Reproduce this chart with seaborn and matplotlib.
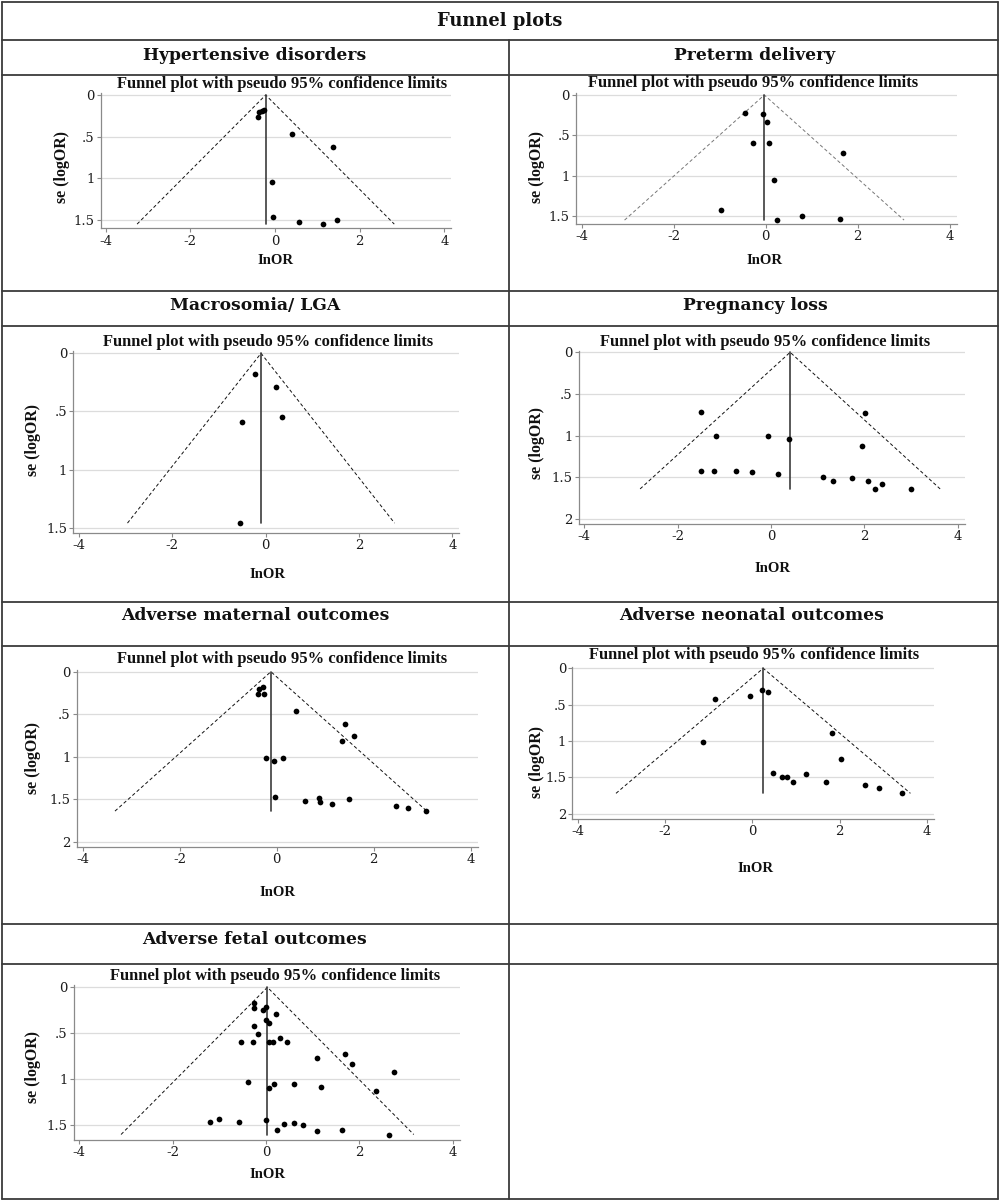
import numpy as np
import pandas as pd
import matplotlib
matplotlib.use("Agg")
import matplotlib.pyplot as plt
import seaborn as sns
from matplotlib.lines import Line2D

# ---------------- data ----------------
main_title = "Funnel plots"
section_titles = ["Hypertensive disorders", "Preterm delivery", "Macrosomia/ LGA",
                  "Pregnancy loss", "Adverse maternal outcomes",
                  "Adverse neonatal outcomes", "Adverse fetal outcomes"]
plot_title = "Funnel plot with pseudo 95% confidence limits"
x_label = "InOR"
y_label = "se (logOR)"
x_ticks = [-4, -2, 0, 2, 4]
x_tick_labels = ["-4", "-2", "0", "2", "4"]
y_ticks_a = [0, 0.5, 1, 1.5]
y_tick_labels_a = ["0", ".5", "1", "1.5"]
y_ticks_b = [0, 0.5, 1, 1.5, 2]
y_tick_labels_b = ["0", ".5", "1", "1.5", "2"]

hyp_lnor = [-0.39, -0.37, -0.31, -0.26, 0.39, 1.38, -0.08, -0.04, 0.57, 1.14, 1.47]
hyp_se = [0.27, 0.21, 0.19, 0.18, 0.47, 0.62, 1.04, 1.47, 1.52, 1.55, 1.50]
hyp_pooled = -0.22

pre_lnor = [-0.45, -0.05, 0.02, -0.27, 0.08, 1.69, 0.18, -0.98, 0.24, 0.78, 1.62]
pre_se = [0.22, 0.24, 0.34, 0.59, 0.59, 0.72, 1.05, 1.43, 1.55, 1.50, 1.54]
pre_pooled = -0.03

mac_lnor = [-0.23, 0.22, -0.50, 0.34, -0.55]
mac_se = [0.18, 0.29, 0.59, 0.55, 1.46]
mac_pooled = -0.10

los_lnor = [-1.51, -1.18, -0.06, 0.39, 2.01, 1.96, -1.49, -1.22, -0.74, -0.40,
            0.16, 1.11, 1.32, 1.74, 2.07, 2.23, 2.37, 3.01]
los_se = [0.72, 1.00, 1.01, 1.04, 0.73, 1.13, 1.42, 1.42, 1.43, 1.44,
          1.46, 1.50, 1.54, 1.51, 1.55, 1.64, 1.58, 1.64]
los_pooled = 0.41

mat_lnor = [-0.38, -0.27, -0.36, -0.29, 0.39, 1.41, 1.34, 1.60, -0.23, -0.05,
            0.14, -0.03, 0.58, 0.87, 0.89, 1.15, 1.49, 2.46, 2.71, 3.07]
mat_se = [0.26, 0.26, 0.20, 0.18, 0.46, 0.62, 0.82, 0.76, 1.01, 1.05,
          1.02, 1.47, 1.52, 1.48, 1.53, 1.56, 1.50, 1.58, 1.60, 1.64]
mat_pooled = -0.12

neo_lnor = [-0.85, -0.05, 0.23, 0.37, -1.14, 1.82, 2.03, 0.48, 0.69, 0.79,
            0.94, 1.24, 1.68, 2.58, 2.90, 3.42]
neo_se = [0.42, 0.38, 0.30, 0.33, 1.01, 0.89, 1.25, 1.44, 1.50, 1.50,
          1.56, 1.46, 1.56, 1.61, 1.64, 1.72]
neo_pooled = 0.25

fet_lnor = [-0.26, -0.26, 0.00, -0.06, 0.21, 0.00, 0.07, -0.25, -0.18, 0.31,
            -0.54, -0.27, 0.07, 0.14, 0.46, 1.10, 1.70, 1.85, 2.75, -0.38,
            0.07, 0.18, 0.61, 1.17, 2.36, -1.20, -1.00, -0.58, 0.00, 0.23,
            0.39, 0.59, 0.79, 1.09, 1.62, 2.64]
fet_se = [0.17, 0.22, 0.21, 0.25, 0.29, 0.35, 0.39, 0.42, 0.51, 0.55,
          0.59, 0.59, 0.59, 0.59, 0.59, 0.77, 0.72, 0.83, 0.92, 1.03,
          1.09, 1.05, 1.05, 1.08, 1.13, 1.46, 1.43, 1.46, 1.44, 1.55,
          1.49, 1.48, 1.50, 1.56, 1.55, 1.60]
fet_pooled = 0.03

panels_data = [
    (hyp_lnor, hyp_se, hyp_pooled),
    (pre_lnor, pre_se, pre_pooled),
    (mac_lnor, mac_se, mac_pooled),
    (los_lnor, los_se, los_pooled),
    (mat_lnor, mat_se, mat_pooled),
    (neo_lnor, neo_se, neo_pooled),
    (fet_lnor, fet_se, fet_pooled),
]

# ---------------- layout (pixels) ----------------
W, H = 1000, 1202
geom = [
    dict(x0=275.0, xs=42.33, y0=95.0, ys=83.3, ybot=1.60, longy=False, funnel="#111111",
         title=(282, 84), ylab=(62, 167), xlab=(275, 260), head=(255, 56)),
    dict(x0=765.7, xs=46.0, y0=95.0, ys=80.7, ybot=1.60, longy=False, funnel="#777777",
         title=(753, 83), ylab=(537, 167), xlab=(764, 260), head=(755, 56)),
    dict(x0=265.7, xs=46.67, y0=353.3, ys=116.3, ybot=1.545, longy=False, funnel="#111111",
         title=(268, 342), ylab=(33, 440), xlab=(267, 574), head=(255, 306)),
    dict(x0=771.0, xs=46.67, y0=352.3, ys=83.3, ybot=2.06, longy=True, funnel="#111111",
         title=(765, 342), ylab=(537, 443), xlab=(772, 568), head=(755, 306)),
    dict(x0=276.7, xs=48.5, y0=671.7, ys=85.0, ybot=2.06, longy=True, funnel="#111111",
         title=(282, 659), ylab=(33, 758), xlab=(277, 893), head=(255, 616)),
    dict(x0=752.3, xs=43.67, y0=668.3, ys=72.7, ybot=2.07, longy=True, funnel="#111111",
         title=(754, 655), ylab=(537, 762), xlab=(755, 868), head=(752, 616)),
    dict(x0=266.0, xs=46.67, y0=987.3, ys=92.0, ybot=1.66, longy=False, funnel="#111111",
         title=(275, 976), ylab=(33, 1067), xlab=(267, 1175), head=(255, 940)),
]
XL, XR, YT = -4.12, 4.15, -0.02

sns.set_theme(style="white")
plt.rcParams["font.family"] = ["DejaVu Serif", "DejaVu Sans"]

fig = plt.figure(figsize=(W / 100, H / 100), dpi=100)
fig.patch.set_facecolor("white")
renderer = fig.canvas.get_renderer()


def fx(x):
    return x / W


def fy(y):
    return 1 - y / H


def ptext(x, y, s, size, target=None, vertical=False, **kw):
    t = fig.text(fx(x), fy(y), s, ha="center", va="center", fontsize=size,
                 rotation=90 if vertical else 0, **kw)
    if target is not None:
        bb = t.get_window_extent(renderer=renderer)
        cur = bb.height if vertical else bb.width
        t.set_fontsize(size * target / cur)
    return t


LBL = dict(fontweight="bold", color="#111111", family=["Liberation Serif", "DejaVu Serif"])
HDR = dict(fontweight="bold", color="#111111", family=["DejaVu Serif"])

# table lines
LC = "#3a3a3a"
LW = 1.3
for y in [2, 40, 75, 291, 326, 602, 646, 924, 964, 1199]:
    fig.add_artist(Line2D([fx(2), fx(998)], [fy(y), fy(y)], color=LC, lw=LW))
for x, y1 in [(2, 2), (998, 2), (509, 40)]:
    fig.add_artist(Line2D([fx(x), fx(x)], [fy(y1), fy(1199)], color=LC, lw=LW))

ptext(500, 21, main_title, 13, target=125, **HDR)

head_size = None
for i, g in enumerate(geom):
    lnor, se, pooled = panels_data[i]
    left = g["x0"] + XL * g["xs"]
    right = g["x0"] + XR * g["xs"]
    top = g["y0"] + YT * g["ys"]
    bottom = g["y0"] + g["ybot"] * g["ys"]
    ax = fig.add_axes([fx(left), fy(bottom), (right - left) / W, (bottom - top) / H])
    ax.set_facecolor("white")

    df = pd.DataFrame({"lnOR": lnor, "se": se})
    se_max = df["se"].max()
    ax.plot([pooled - 1.96 * se_max, pooled, pooled + 1.96 * se_max],
            [se_max, 0, se_max], color=g["funnel"], lw=0.7,
            linestyle=(0, (3.5, 2.5)), zorder=2, clip_on=False)
    ax.plot([pooled, pooled], [0, se_max], color="#3c3c3c", lw=1.2, zorder=2,
            clip_on=False)
    sns.scatterplot(data=df, x="lnOR", y="se", ax=ax, color="black", s=17,
                    marker="o", edgecolor="black", linewidth=0, zorder=3,
                    legend=False)

    yt = y_ticks_b if g["longy"] else y_ticks_a
    ytl = y_tick_labels_b if g["longy"] else y_tick_labels_a
    ax.set_xlim(XL, XR)
    ax.set_ylim(g["ybot"], YT)
    ax.set_xticks(x_ticks)
    ax.set_xticklabels(x_tick_labels)
    ax.set_yticks(yt)
    ax.set_yticklabels(ytl)
    ax.grid(False)
    for v in yt:
        ax.axhline(v, color="#dcdcdc", lw=0.9, zorder=0)
    for s in ["top", "right"]:
        ax.spines[s].set_visible(False)
    for s in ["left", "bottom"]:
        ax.spines[s].set_color("#8a8a8a")
        ax.spines[s].set_linewidth(0.9)
    ax.tick_params(axis="both", which="major", length=3, width=0.8, color="#8a8a8a",
                   labelsize=9.5, labelcolor="#1a1a1a", pad=1.5, direction="out",
                   bottom=True, left=True)
    ax.set_xlabel("")
    ax.set_ylabel("")

    ptext(*g["title"], plot_title, 10, target=331, **LBL)
    ptext(*g["ylab"], y_label, 10, target=72, vertical=True, **LBL)
    ptext(*g["xlab"], x_label, 10, target=36, **LBL)
    t = ptext(*g["head"], section_titles[i], 13, **HDR)
    if head_size is None:
        bb = t.get_window_extent(renderer=renderer)
        head_size = 13 * 222 / bb.width
    t.set_fontsize(head_size)

fig.savefig("out.png", dpi=100, facecolor="white")
